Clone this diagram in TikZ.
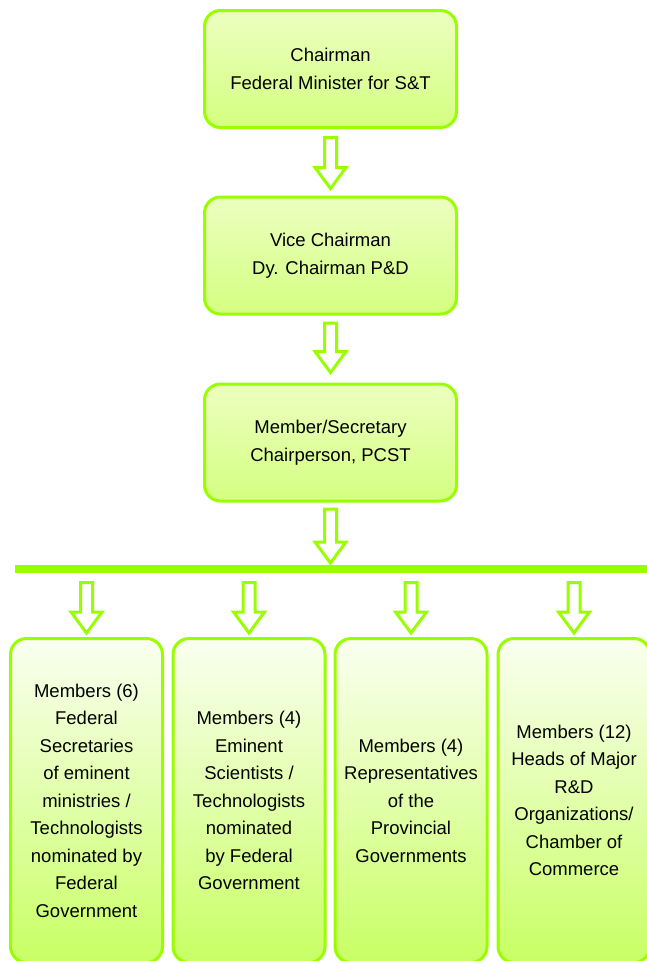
\documentclass[tikz,border=0pt]{standalone}
\usepackage{fontspec}
\setmainfont{Liberation Sans}
\usepackage{xcolor}
\usepackage{tikz}
\usetikzlibrary{calc,shapes.geometric}
\definecolor{limeline}{RGB}{153,255,0}
\definecolor{limetop}{RGB}{236,255,192}
\definecolor{limebot}{RGB}{212,255,128}
\definecolor{membtop}{RGB}{250,255,240}
\definecolor{membbot}{RGB}{200,255,100}
\tikzset{
  headbox/.style={draw=limeline, line width=3pt, rounded corners=16pt,
    top color=limetop, bottom color=limebot, minimum width=252pt,
    minimum height=117pt, inner sep=0pt, align=center,
    font=\fontsize{18.5}{27.5}\selectfont},
  membbox/.style={draw=limeline, line width=3pt, rounded corners=16pt,
    top color=membtop, bottom color=membbot, minimum width=152pt,
    minimum height=324pt, inner sep=0pt, align=center,
    font=\fontsize{18.5}{27.5}\selectfont},
  arrowbox/.style={draw=limeline, fill=white, line width=3pt, line join=miter}
}
% hollow block arrow from #1 down to #2
\newcommand{\downblock}[2]{%
  \draw[arrowbox] let \p1=(#1), \p2=(#2) in
    (\x1-6pt,\y1) -- (\x1+6pt,\y1) -- (\x1+6pt,\y2+21pt)
    -- (\x1+15.5pt,\y2+21pt) -- (\x1,\y2) -- (\x1-15.5pt,\y2+21pt)
    -- (\x1-6pt,\y2+21pt) -- cycle;
}
\begin{document}
\begin{tikzpicture}[x=1pt,y=-1pt]
  \useasboundingbox (0,0) rectangle (646,961);
  % Head boxes
  \node[headbox] (chair) at (330.5,69) {Chairman\\Federal Minister for S\&T};
  \node[headbox] (vice) at (330.5,255.5) {Vice Chairman\\Dy. Chairman P\&D};
  \node[headbox] (secr) at (330.5,442.5) {Member/Secretary\\Chairperson, PCST};
  % Bar
  \path
    (15,569) coordinate (barL)
    (660,569) coordinate (barR)
    (330.5,569) coordinate (barM)
  ;
  \draw[limeline, line width=8pt] (barL) -- (barR);
  % Member boxes
  \node[membbox] (fed) at (86.5,800.5)
    {Members (6)\\Federal\\Secretaries\\of eminent\\ministries /\\Technologists\\nominated by\\Federal\\Government};
  \node[membbox] (sci) at (249,800.5)
    {Members (4)\\Eminent\\Scientists /\\Technologists\\nominated\\by Federal\\Government};
  \node[membbox] (prov) at (411,800.5)
    {Members (4)\\Representatives\\of the\\Provincial\\Governments};
  \node[membbox] (rnd) at (574,800.5)
    {Members (12)\\Heads of Major\\R\&D\\Organizations/\\Chamber of\\Commerce};
  % Arrows
  \downblock{$(chair.south)+(0,8.5)$}{$(vice.north)+(0,-7)$}
  \downblock{$(vice.south)+(0,7.5)$}{$(secr.north)+(0,-10)$}
  \downblock{$(secr.south)+(0,6.5)$}{$(barM)+(0,-6)$}
  \foreach \memb in {fed,sci,prov,rnd}
    \downblock{$(\memb.north |- barM)+(0,13.5)$}{$(\memb.north)+(0,-4)$};
\end{tikzpicture}
\end{document}
